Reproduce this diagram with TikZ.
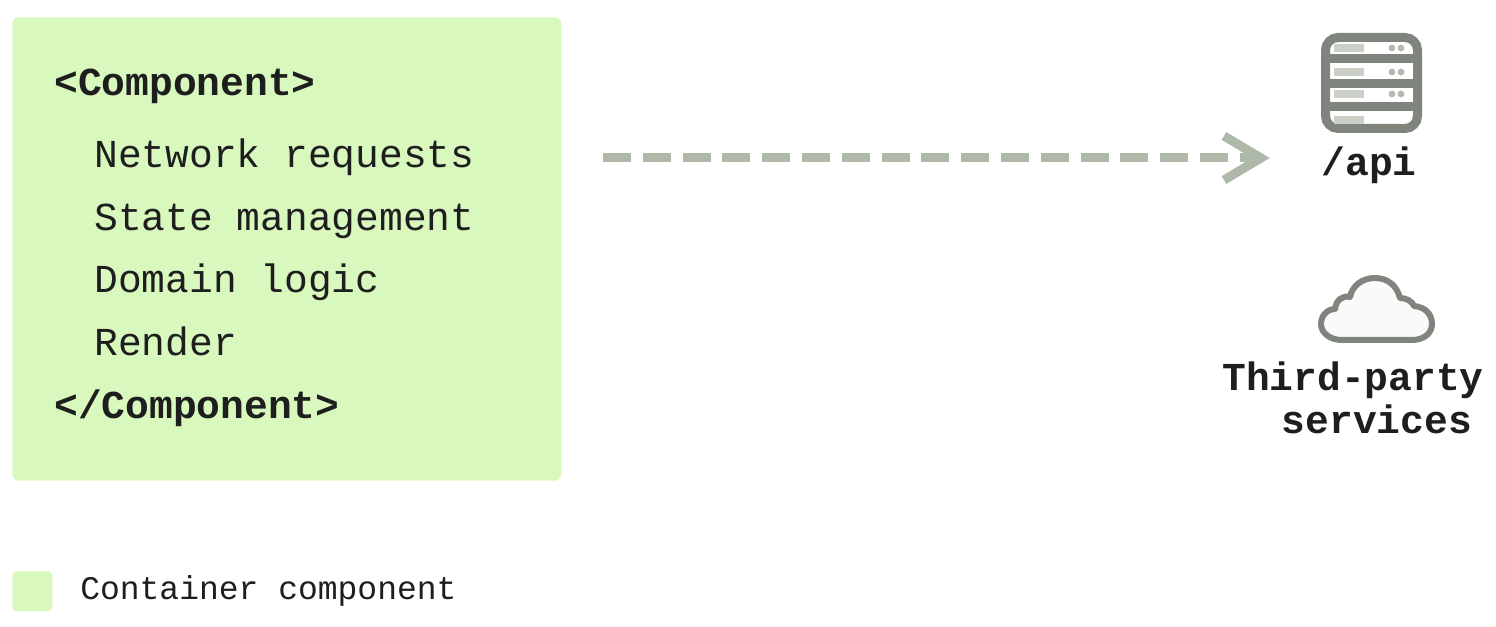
\documentclass[tikz,border=0pt]{standalone}
\usepackage{fontspec}
\setmonofont{Liberation Mono}
\usepackage{xcolor}
\usetikzlibrary{arrows.meta, positioning}

\definecolor{containergreen}{HTML}{D8F8BE}
\definecolor{iconink}{HTML}{7F857D}
\definecolor{iconpale}{HTML}{CBD0C6}
\definecolor{arrowgrey}{HTML}{AFB9A9}
\definecolor{textink}{HTML}{1E1E1E}

\begin{document}
\begin{tikzpicture}[
  x=0.75pt, y=-0.75pt,
  node distance=0pt,
  bigtext/.style={inner sep=0pt, anchor=base west, text=textink, font=\fontsize{29.7}{29.7}\selectfont\ttfamily},
  tagtext/.style={bigtext, font=\fontsize{29.7}{29.7}\selectfont\ttfamily\bfseries},
  icontext/.style={tagtext, anchor=base},
  greenbox/.style={fill=containergreen, rounded corners=5pt, inner sep=0pt},
  arrow/.style={arrowgrey, line width=6.75pt, dash pattern=on 21pt off 8.85pt},
  arrowhead/.style={arrowgrey, line width=6.75pt},
  icon/.style={iconink, line width=6.75pt},
  iconbar/.style={fill=iconpale}
]
\useasboundingbox (0,0) rectangle (1496,627);

% Container box
\node[greenbox, anchor=north west, minimum width=411.75pt, minimum height=347.5pt] (container) at (12,17) {};

% Text in the box
\node[tagtext] (open_tag) at (54,96) {<Component>};
\node[bigtext] (network) at (94,168) {Network requests};
\node[bigtext] (state) at (94,230.5) {State management};
\node[bigtext] (domain) at (94,293) {Domain logic};
\node[bigtext] (render) at (94,355.5) {Render};
\node[tagtext] (close_tag) at (54,418.5) {</Component>};

% Arrow
\coordinate (arrow_start) at (603,158);
\coordinate (arrow_end) at (1258,158);
\draw[arrow] (arrow_start) -- (arrow_end);
\draw[arrowhead, miter limit=10] (1224,136) -- (1261,158) -- (1224,180);

% Server icon
\draw[icon, rounded corners=9.5pt] (1325.5,37.5) rectangle (1417.5,128.5);
\foreach \y in {59,84,107}
  \draw[icon] (1321,\y) -- (1422,\y);
\foreach \y in {44,68.5,90,116}
  \fill[iconbar] (1334,\y) rectangle (1364,\y+8);
\foreach \y in {48,72,94}
  \foreach \x in {1392,1401}
    \fill[iconpale!70!iconink] (\x,\y) circle (3.4);
\node[icontext] (api) at (1369,175.5) {/api};

% Cloud icon
\draw[iconink, line width=4.5pt, fill=black!2, line join=round]
  (1342,340) -- (1412,340)
  .. controls (1424,340) and (1432,333) .. (1432,324)
  .. controls (1432,314) and (1425,307) .. (1414,306)
  .. controls (1412,301) and (1406,298) .. (1400,298)
  .. controls (1397,286) and (1388,278) .. (1375,278)
  .. controls (1362,278) and (1352,286) .. (1350,297)
  .. controls (1343,295) and (1336,300) .. (1335,309)
  .. controls (1327,309) and (1321,316) .. (1321,324)
  .. controls (1321,333) and (1330,340) .. (1342,340) -- cycle;
\node[icontext] (third_party) at (1353,390.5) {Third-party};
\node[icontext] (services) at (1377,433.5) {services};

% Legend
\node[greenbox, anchor=north west, rounded corners=3pt, minimum width=30pt, minimum height=30pt] (legend_box) at (12,571) {};
\node[bigtext, font=\fontsize{24.75}{24.75}\selectfont\ttfamily] (legend_text) at (80,599) {Container component};

\end{tikzpicture}
\end{document}
